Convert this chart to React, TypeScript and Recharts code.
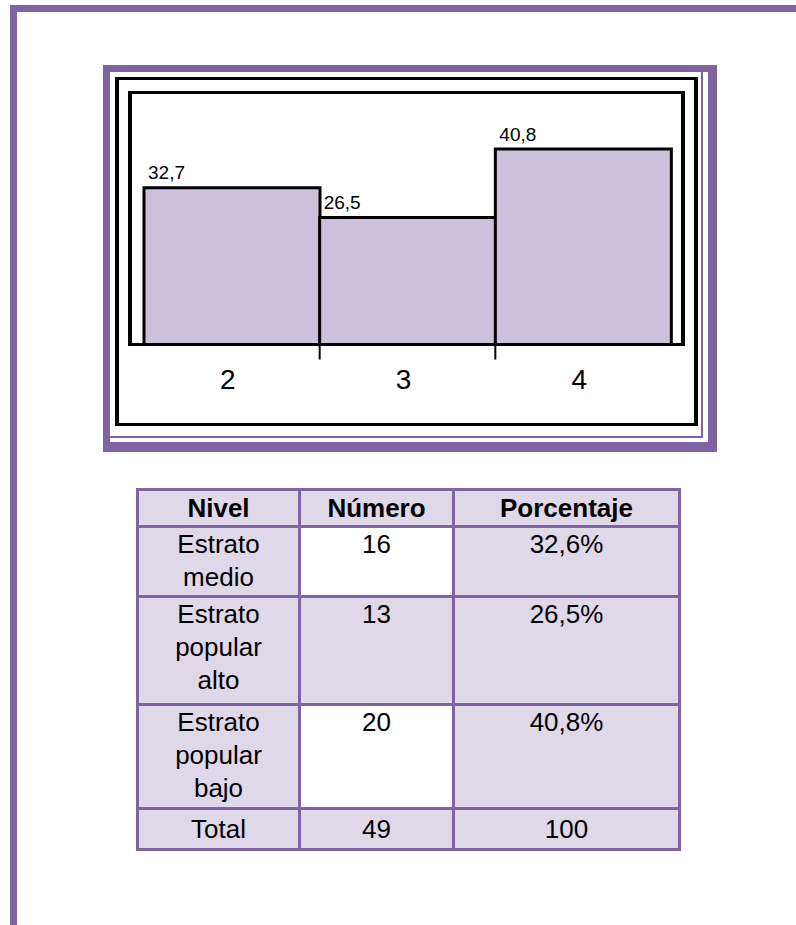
import React from 'react';
import { BarChart, Bar, XAxis, YAxis, LabelList } from 'recharts';

// Chart values
const categories = ['2', '3', '4'];
const shares = [32.7, 26.5, 40.8];

// Table contents
const tableHeaders = ['Nivel', 'Número', 'Porcentaje'];
const levelNames = ['Estrato medio', 'Estrato popular alto', 'Estrato popular bajo'];
const levelCounts = [16, 13, 20];
const levelPercents = ['32,6%', '26,5%', '40,8%'];
const totalRow = ['Total', '49', '100'];

const chartData = categories.map((name, i) => ({ name, value: shares[i] }));

const PURPLE = '#8064A2';
const BAR_FILL = '#CCC0DA';
const CELL_FILL = '#DFD8E8';
const FONT = '"Liberation Sans", Arial, sans-serif';
const countCellFills = ['#FFFFFF', CELL_FILL, '#FFFFFF'];

const formatValue = (v: number) => v.toFixed(1).replace('.', ',');

// Category label in the middle of each band, tick marks on the band boundaries
function CategoryTick(props: any) {
  const { x, y, payload, index } = props;
  const half = payload && typeof payload.offset === 'number' && payload.offset > 0 ? payload.offset : 87.8;
  return (
    <g>
      <text x={x - 4} y={y + 44.5} textAnchor="middle" fontSize={28} fontFamily={FONT} fill="#000">
        {payload.value}
      </text>
      {index < categories.length - 1 && (
        <line x1={x + half} x2={x + half} y1={y} y2={y + 15} stroke="#000" strokeWidth={2} />
      )}
    </g>
  );
}

function ValueLabel(props: any) {
  const { x, y, value } = props;
  return (
    <text x={x + 4} y={y - 8.5} fontSize={19} fontFamily={FONT} fill="#000">
      {formatValue(value)}
    </text>
  );
}

const abs = (s: React.CSSProperties): React.CSSProperties => ({ position: 'absolute', boxSizing: 'border-box', ...s });

export default function App() {
  const cellBase: React.CSSProperties = {
    background: CELL_FILL,
    textAlign: 'center',
  };
  const centered: React.CSSProperties = {
    ...cellBase,
    display: 'flex',
    alignItems: 'center',
    justifyContent: 'center',
  };

  return (
    <div style={abs({ left: 0, top: 0, width: 796, height: 925, overflow: 'hidden', background: '#fff' })}>
      {/* page border */}
      <div style={abs({ left: 10, top: 5, width: 820, height: 950, borderLeft: `7px solid ${PURPLE}`, borderTop: `7px solid ${PURPLE}` })} />

      {/* chart frames */}
      <div
        style={abs({
          left: 103,
          top: 65,
          width: 614,
          height: 387,
          borderLeft: `7px solid ${PURPLE}`,
          borderTop: `7px solid ${PURPLE}`,
          borderRight: `9px solid ${PURPLE}`,
          borderBottom: `10px solid ${PURPLE}`,
        })}
      />
      <div style={abs({ left: 110, top: 72, width: 593, height: 366, borderRight: `2px solid ${PURPLE}`, borderBottom: `2px solid ${PURPLE}` })} />
      <div style={abs({ left: 115, top: 77, width: 583, height: 349, borderLeft: '4px solid #000', borderRight: '4px solid #000', borderTop: '3px solid #000', borderBottom: '3px solid #000' })} />
      <div style={abs({ left: 128, top: 91, width: 557, height: 254, borderLeft: '4px solid #000', borderRight: '4px solid #000', borderTop: '3px solid #000' })} />

      <div style={abs({ left: 0, top: 0, width: 796, height: 470 })}>
        <BarChart
          width={796}
          height={470}
          data={chartData}
          margin={{ top: 105, right: 111, bottom: 65.5, left: 128 }}
          barCategoryGap={0}
          barGap={0}
        >
          <YAxis hide domain={[0, 50]} />
          <XAxis
            dataKey="name"
            height={60}
            interval={0}
            padding={{ left: 16, right: 14 }}
            axisLine={{ stroke: '#000', strokeWidth: 3 }}
            tickLine={false}
            tickSize={0}
            tickMargin={0}
            tick={<CategoryTick />}
          />
          <Bar dataKey="value" fill={BAR_FILL} stroke="#000" strokeWidth={3} isAnimationActive={false}>
            <LabelList dataKey="value" content={<ValueLabel />} />
          </Bar>
        </BarChart>
      </div>

      {/* summary table */}
      <div
        style={abs({
          left: 136,
          top: 488,
          width: 545,
          height: 363,
          background: PURPLE,
          padding: 3,
          display: 'grid',
          gridTemplateColumns: '159px 151px 223px',
          gridTemplateRows: '34px 67px 105px 101px 38px',
          gap: 3,
          fontFamily: FONT,
          fontSize: 26,
          lineHeight: '33px',
          color: '#000',
        })}
      >
        {tableHeaders.map((h) => (
          <div key={h} style={{ ...centered, fontWeight: 'bold' }}>
            {h}
          </div>
        ))}
        {levelNames.map((name, i) => (
          <React.Fragment key={name}>
            <div style={cellBase}>
              {name.split(' ').map((w, j) => (
                <div key={j}>{w}</div>
              ))}
            </div>
            <div style={{ ...cellBase, background: countCellFills[i] }}>{levelCounts[i]}</div>
            <div style={cellBase}>{levelPercents[i]}</div>
          </React.Fragment>
        ))}
        {totalRow.map((t) => (
          <div key={t} style={centered}>
            {t}
          </div>
        ))}
      </div>
    </div>
  );
}
